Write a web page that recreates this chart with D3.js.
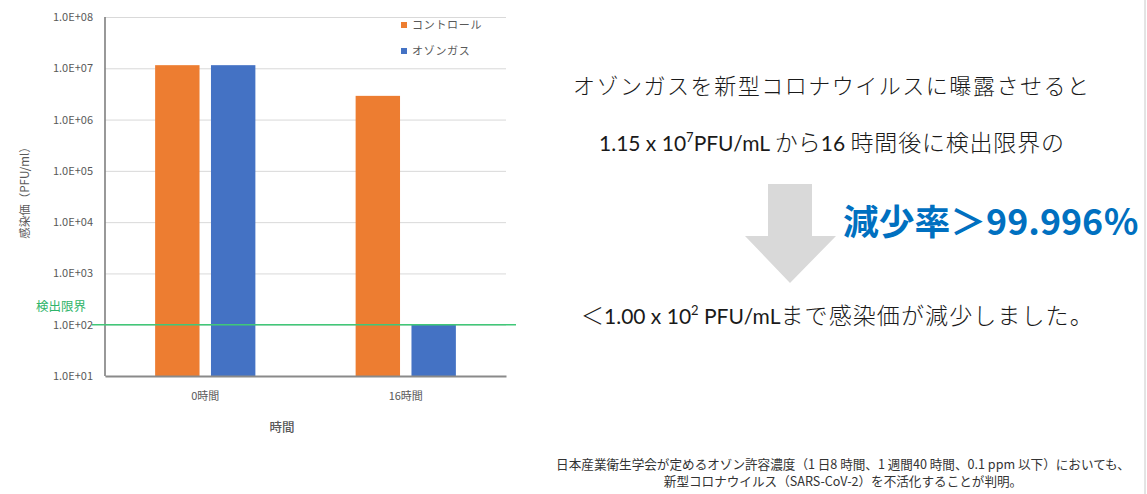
<!DOCTYPE html>
<html><head><meta charset="utf-8">
<script src="https://cdn.jsdelivr.net/npm/d3@7"></script>
<style>body{margin:0;background:#fff;} svg{display:block;}</style>
</head><body>
<svg id="c" width="1147" height="494"></svg>
<script>
// ---- data ----
const categories = ["0時間", "16時間"];
const seriesNames = ["コントロール", "オゾンガス"];
const controlValues = [1.15e7, 2.9e6];
const ozoneValues = [1.15e7, 1.0e2];
const yTickValues = [1e1, 1e2, 1e3, 1e4, 1e5, 1e6, 1e7, 1e8];
const yTickLabels = ["1.0E+01", "1.0E+02", "1.0E+03", "1.0E+04", "1.0E+05", "1.0E+06", "1.0E+07", "1.0E+08"];
const detectionLimit = 1e2;
const detectionLabel = "検出限界";
const yAxisTitle = "感染価（PFU/ml）";
const xAxisTitle = "時間";

const seriesValues = [controlValues, ozoneValues];
const colors = ["#ed7d31", "#4472c4"];
const cjk = "'Noto Sans CJK JP', sans-serif";
const mixed = "Lato, 'Noto Sans CJK JP', sans-serif";

const svg = d3.select("#c");
const L = 105, R = 506, T = 17, B = 376;

const x0 = d3.scaleBand().domain(categories).range([L, R]).paddingInner(0.5).paddingOuter(0.25);
const x1 = d3.scaleBand().domain(seriesNames).range([0, x0.bandwidth()]).paddingInner(0.205);
const y = d3.scaleLog().domain([1e1, 1e8]).range([B, T]);

// grid + y labels
const yAxis = svg.append("g").attr("transform", `translate(${L},0)`)
  .call(d3.axisLeft(y).tickValues(yTickValues)
    .tickFormat((d, i) => yTickLabels[i]).tickSize(-(R - L)).tickPadding(12));
yAxis.select(".domain").remove();
yAxis.selectAll(".tick line").attr("stroke", "#d9d9d9").attr("stroke-width", 1);
yAxis.selectAll(".tick text").attr("fill", "#595959").style("font-family", cjk).style("font-size", "11px");

// bars
const groups = svg.append("g").selectAll("g").data(categories).join("g")
  .attr("transform", d => `translate(${x0(d)},0)`);
groups.selectAll("rect")
  .data((c, ci) => seriesNames.map((s, si) => ({ s, si, v: seriesValues[si][ci] })))
  .join("rect")
  .attr("x", d => x1(d.s)).attr("width", x1.bandwidth())
  .attr("y", d => y(d.v)).attr("height", d => B - y(d.v))
  .attr("fill", d => colors[d.si]);

// axes lines
svg.append("line").attr("x1", L).attr("x2", L).attr("y1", T).attr("y2", B)
  .attr("stroke", "#7f7f7f").attr("stroke-width", 1.6);
const xAxis = svg.append("g").attr("transform", `translate(0,${B})`)
  .call(d3.axisBottom(x0).tickSize(0).tickPadding(16));
xAxis.select(".domain").attr("stroke", "#8a8a8a").attr("stroke-width", 2);
xAxis.selectAll(".tick text").attr("fill", "#595959").style("font-family", cjk).style("font-size", "11px");

// detection limit
svg.append("line").attr("x1", 92).attr("x2", 516).attr("y1", y(detectionLimit)).attr("y2", y(detectionLimit))
  .attr("stroke", "#40c878").attr("stroke-width", 1.6);
svg.append("text").attr("x", 36).attr("y", y(detectionLimit) - 14).text(detectionLabel)
  .attr("fill", "#2fb56a").style("font-family", cjk).style("font-size", "12.5px");

// axis titles
svg.append("text").attr("transform", "translate(29,190) rotate(-90)").attr("text-anchor", "middle")
  .text(yAxisTitle).attr("fill", "#595959").style("font-family", cjk).style("font-size", "11.5px");
svg.append("text").attr("x", 282).attr("y", 432).attr("text-anchor", "middle").text(xAxisTitle)
  .attr("fill", "#595959").style("font-family", cjk).style("font-size", "12.5px").style("font-weight", 500);

// legend
const leg = svg.append("g").selectAll("g").data(seriesNames).join("g")
  .attr("transform", (d, i) => `translate(401,${22 + i * 26})`);
leg.append("rect").attr("width", 6).attr("height", 6).attr("fill", (d, i) => colors[i]);
leg.append("text").attr("x", 11).attr("y", 7).text(d => d).attr("fill", "#595959")
  .style("font-family", cjk).style("font-size", "11px").style("letter-spacing", "0.7px");

// right-hand text
const ink = "#1a1a1a";
svg.append("text").attr("x", 573).attr("y", 94).text("オゾンガスを新型コロナウイルスに曝露させると")
  .attr("textLength", 516).attr("lengthAdjust", "spacing")
  .attr("fill", ink).style("font-family", cjk).style("font-size", "22px").style("font-weight", 300);

const l2 = svg.append("text").attr("x", 599).attr("y", 151).attr("fill", ink)
  .style("font-family", mixed).style("font-size", "21px");
l2.append("tspan").text("1.15 x 10");
l2.append("tspan").attr("dy", -9).style("font-size", "13px").text("7");
l2.append("tspan").attr("dy", 9).text("PFU/mL ");
l2.append("tspan").style("font-size", "23px").style("font-weight", 300).text("から");
l2.append("tspan").text("16 ");
l2.append("tspan").style("font-size", "23px").style("font-weight", 300).style("letter-spacing", "0.8px").text("時間後に検出限界の");

// arrow
svg.append("path").attr("d", "M768,184H812V236H836L790,283L745,236H768Z").attr("fill", "#d9d9d9");

svg.append("text").attr("x", 843).attr("y", 235).text("減少率＞99.996％")
  .attr("textLength", 296).attr("lengthAdjust", "spacingAndGlyphs")
  .attr("fill", "#0070c0").style("font-family", cjk).style("font-size", "35px").style("font-weight", 700);

const l3 = svg.append("text").attr("x", 581).attr("y", 324).attr("fill", ink)
  .style("font-family", mixed).style("font-size", "21px");
l3.append("tspan").style("font-size", "23px").style("font-weight", 300).text("＜");
l3.append("tspan").text("1.00 x 10");
l3.append("tspan").attr("dy", -9).style("font-size", "13px").text("2");
l3.append("tspan").attr("dy", 9).text(" PFU/mL");
l3.append("tspan").style("font-size", "23px").style("font-weight", 300).style("letter-spacing", "1.1px").text("まで感染価が減少しました。");

// footer
const foot = svg.append("text").attr("text-anchor", "middle").attr("fill", "#333")
  .style("font-family", cjk).style("font-size", "12.6px");
foot.append("tspan").attr("x", 843).attr("y", 469).text("日本産業衛生学会が定めるオゾン許容濃度（1 日8 時間、1 週間40 時間、0.1 ppm 以下）においても、");
foot.append("tspan").attr("x", 843).attr("y", 486).text("新型コロナウイルス（SARS-CoV-2）を不活化することが判明。");

// right border
svg.append("line").attr("x1", 1145).attr("x2", 1145).attr("y1", 0).attr("y2", 494)
  .attr("stroke", "#c8c8c8").attr("stroke-width", 1);
</script>
</body></html>
